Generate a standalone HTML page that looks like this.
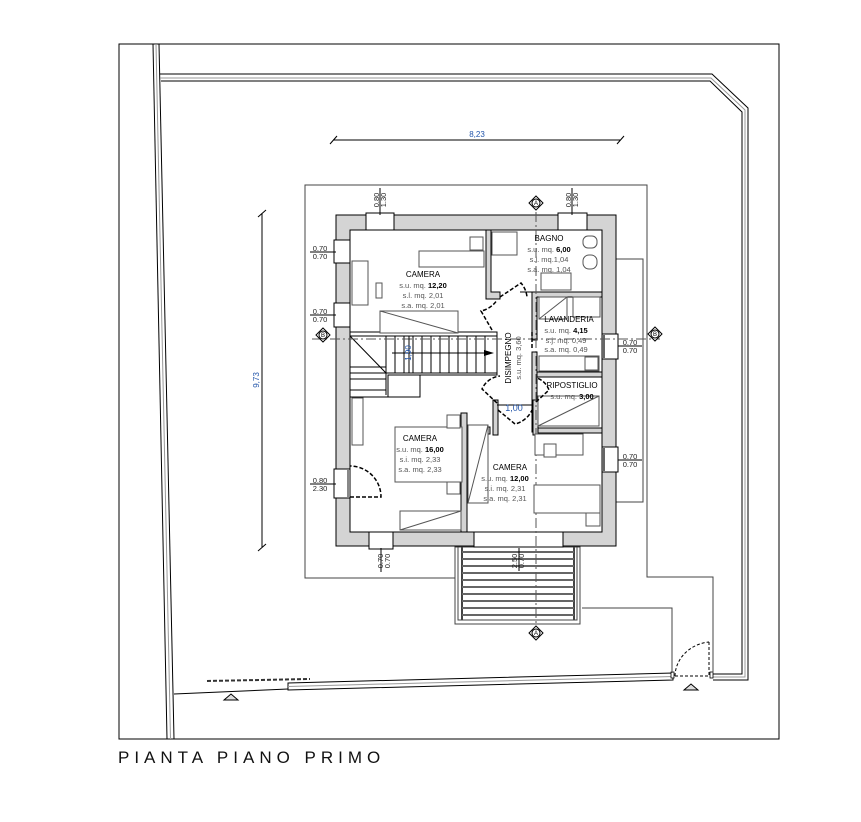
<!DOCTYPE html>
<html><head><meta charset="utf-8"><style>
html,body{margin:0;padding:0;background:#fff;}
svg{display:block;}
text{font-family:"Liberation Sans",sans-serif;}
</style></head><body>
<svg width="861" height="822" viewBox="0 0 861 822" xmlns="http://www.w3.org/2000/svg">
<rect width="861" height="822" fill="#fff"/>
<rect x="119" y="44" width="660" height="695" fill="none" stroke="#000" stroke-width="1"/>
<line x1="153" y1="44" x2="167" y2="739" stroke="#000" stroke-width="1"/>
<line x1="159" y1="44" x2="174" y2="739" stroke="#000" stroke-width="1"/>
<line x1="156" y1="44" x2="170.5" y2="739" stroke="#999" stroke-width="1"/>
<polyline points="160,74 712,74 748,108 748,680 713,680" fill="none" stroke="#000" stroke-width="1"/>
<polyline points="160,78 711,78 745,110 745,677 713,677" fill="none" stroke="#999" stroke-width="1"/>
<polyline points="161,81 710,81 742,112 742,674 713,674" fill="none" stroke="#000" stroke-width="1"/>
<line x1="174" y1="694" x2="288" y2="689" stroke="#000" stroke-width="1"/>
<polygon points="288,683 673,673 673,680 288,690" fill="#fff" stroke="#000" stroke-width="1"/>
<line x1="288" y1="686.5" x2="673" y2="676.5" stroke="#999" stroke-width="1"/>
<line x1="207" y1="681" x2="310" y2="679" stroke="#333" stroke-width="2" stroke-dasharray="4,2"/>
<polygon points="224,700 231,694 238,700" fill="#ddd" stroke="#000" stroke-width="1"/>
<polygon points="684,690 691,684 698,690" fill="#ddd" stroke="#000" stroke-width="1"/>
<rect x="671" y="672" width="3" height="6" fill="#fff" stroke="#000" stroke-width="0.8"/>
<rect x="710" y="672" width="3" height="6" fill="#fff" stroke="#000" stroke-width="0.8"/>
<path d="M675,676 A38,35 0 0 1 709,642" fill="none" stroke="#000" stroke-dasharray="3,2"/>
<line x1="709" y1="642" x2="709" y2="676" stroke="#000" stroke-dasharray="3,2"/>
<line x1="675" y1="676" x2="709" y2="676" stroke="#000" stroke-dasharray="3,2"/>
<polyline points="456,578 305,578 305,185 647,185 647,577 713,577 713,673" fill="none" stroke="#444" stroke-width="1"/>
<polyline points="582,608 672,608 672,673" fill="none" stroke="#444" stroke-width="1"/>
<polyline points="616,259 643,259 643,502 616,502" fill="none" stroke="#444" stroke-width="1"/>
<rect x="455" y="547" width="125" height="77" fill="#fff" stroke="#444"/>
<rect x="458" y="547" width="119" height="73" fill="none" stroke="#444"/>
<line x1="462" y1="547" x2="462" y2="620" stroke="#444" stroke-width="2"/>
<line x1="574" y1="547" x2="574" y2="620" stroke="#444" stroke-width="2"/>
<g stroke="#666" stroke-width="2">
<line x1="462" y1="552" x2="574" y2="552"/><line x1="462" y1="559" x2="574" y2="559"/>
<line x1="462" y1="566" x2="574" y2="566"/><line x1="462" y1="573" x2="574" y2="573"/>
<line x1="462" y1="580" x2="574" y2="580"/><line x1="462" y1="587" x2="574" y2="587"/>
<line x1="462" y1="594" x2="574" y2="594"/><line x1="462" y1="601" x2="574" y2="601"/>
<line x1="462" y1="608" x2="574" y2="608"/><line x1="462" y1="615" x2="574" y2="615"/>
</g>
<path d="M336,215 H616 V546 H336 Z M350,230 V532 H602 V230 Z" fill="#d4d4d4" fill-rule="evenodd" stroke="#000" stroke-width="1"/>
<rect x="366" y="213" width="28" height="17" fill="#fff" stroke="#000"/>
<rect x="558" y="213" width="29" height="17" fill="#fff" stroke="#000"/>
<rect x="334" y="240" width="16" height="23" fill="#fff" stroke="#000"/>
<rect x="334" y="303" width="16" height="24" fill="#fff" stroke="#000"/>
<rect x="334" y="469" width="16" height="29" fill="#fff" stroke="#000"/>
<rect x="347" y="470" width="3" height="27" fill="#888"/>
<rect x="602" y="334" width="16" height="25" fill="#fff" stroke="#000"/>
<rect x="602" y="447" width="16" height="25" fill="#fff" stroke="#000"/>
<rect x="602" y="335" width="3" height="23" fill="#666"/>
<rect x="602" y="448" width="3" height="23" fill="#666"/>
<rect x="369" y="532" width="24" height="17" fill="#fff" stroke="#000"/>
<rect x="474" y="532" width="89" height="15" fill="#fff" stroke="#000"/>
<g fill="#d4d4d4" stroke="#000" stroke-width="1">
<path d="M486,230 H491 V292 H500 V299 H486 Z"/>
<path d="M520,292 H602 V297 H537 V340 H532 V292 Z"/>
<rect x="532" y="352" width="5" height="80"/>
<rect x="537" y="372" width="65" height="5"/>
<rect x="537" y="428" width="65" height="5"/>
<path d="M467,427 H490 V434 H467 Z"/>
<path d="M461,413 H467 V532 H461 Z"/>
<rect x="493" y="400" width="5" height="35"/>
<rect x="533" y="400" width="5" height="35"/>
<path d="M350,332 H497 V375 H420 V397 H350 Z" fill="#fff"/>
</g>
<g stroke="#000" stroke-width="1" fill="none">
<rect x="350" y="336" width="147" height="37" fill="#fff"/>
<line x1="350" y1="336" x2="386" y2="373"/>
<line x1="386" y1="336" x2="386" y2="395"/>
<line x1="350" y1="367" x2="386" y2="367"/>
<line x1="350" y1="379" x2="386" y2="379"/>
<line x1="350" y1="390" x2="386" y2="390"/>
<rect x="388" y="375" width="32" height="22" fill="#fff"/>
<line x1="395" y1="336" x2="395" y2="373"/><line x1="404" y1="336" x2="404" y2="373"/>
<line x1="413" y1="336" x2="413" y2="373"/><line x1="422" y1="336" x2="422" y2="373"/>
<line x1="431" y1="336" x2="431" y2="373"/><line x1="440" y1="336" x2="440" y2="373"/>
<line x1="449" y1="336" x2="449" y2="373"/><line x1="458" y1="336" x2="458" y2="373"/>
<line x1="467" y1="336" x2="467" y2="373"/><line x1="476" y1="336" x2="476" y2="373"/>
<line x1="485" y1="336" x2="485" y2="373"/>
<line x1="392" y1="353" x2="492" y2="353"/>
</g>
<polygon points="484,350 494,353 484,356" fill="#000"/>
<line x1="312" y1="339" x2="660" y2="339" stroke="#555" stroke-dasharray="10,3,2,3"/>
<line x1="536" y1="212" x2="536" y2="626" stroke="#555" stroke-dasharray="10,3,2,3"/>
<g fill="#fff" stroke="#555" stroke-width="1">
<rect x="419" y="251" width="65" height="16"/><rect x="470" y="237" width="13" height="13"/>
<rect x="352" y="261" width="16" height="44"/><rect x="376" y="283" width="6" height="15"/>
<rect x="380" y="311" width="78" height="22"/><line x1="380" y1="311" x2="458" y2="333"/>
<rect x="492" y="232" width="25" height="23"/>
<rect x="541" y="273" width="30" height="17"/>
<rect x="583" y="236" width="14" height="12" rx="5"/><rect x="583" y="255" width="14" height="14" rx="6"/>
<rect x="539" y="297" width="28" height="22"/><line x1="539" y1="319" x2="567" y2="297"/>
<rect x="573" y="297" width="27" height="20"/>
<rect x="539" y="356" width="60" height="15"/>
<rect x="585" y="357" width="13" height="13"/>
<rect x="538" y="396" width="61" height="30"/><line x1="538" y1="426" x2="599" y2="396"/>
<rect x="352" y="398" width="11" height="47"/>
<rect x="395" y="427" width="67" height="55"/>
<rect x="447" y="415" width="13" height="13"/><rect x="447" y="482" width="13" height="12"/>
<rect x="400" y="511" width="61" height="19"/><line x1="400" y1="530" x2="461" y2="511"/>
<rect x="468" y="425" width="20" height="78"/><line x1="468" y1="503" x2="488" y2="425"/>
<rect x="534" y="485" width="66" height="28"/><rect x="586" y="513" width="14" height="13"/>
<rect x="535" y="434" width="48" height="21"/><rect x="544" y="444" width="12" height="13"/>
</g>
<g fill="none" stroke="#000" stroke-width="1.5" stroke-dasharray="4,2">
<path d="M500,297 L521,283 A25,25 0 0 1 527,297"/>
<path d="M492,330 L481,311 A25,25 0 0 0 497,300"/>
<path d="M497,403 L482,389 A22,22 0 0 1 500,376"/>
<path d="M498,410 L515,424 A25,25 0 0 0 532,410"/>
<path d="M536,402 L549,390 A20,20 0 0 0 537,378"/>
<path d="M532,348 L532,330"/>
<path d="M350,497 H381 A31,31 0 0 0 350,466"/>
</g>
<g stroke="#000" stroke-width="1">
<line x1="333" y1="140" x2="620" y2="140"/>
<line x1="330" y1="144" x2="337" y2="136"/><line x1="617" y1="144" x2="624" y2="136"/>
<line x1="262" y1="213" x2="262" y2="547"/>
<line x1="258" y1="217" x2="266" y2="210"/><line x1="258" y1="551" x2="266" y2="544"/>
<line x1="497" y1="405" x2="533" y2="405"/>
<line x1="409" y1="336" x2="409" y2="373"/>
<line x1="380" y1="188" x2="380" y2="215"/><line x1="572" y1="188" x2="572" y2="215"/>
<line x1="310" y1="252" x2="336" y2="252"/><line x1="310" y1="315" x2="336" y2="315"/>
<line x1="310" y1="484" x2="336" y2="484"/>
<line x1="618" y1="346" x2="642" y2="346"/><line x1="618" y1="460" x2="642" y2="460"/>
<line x1="381" y1="548" x2="381" y2="572"/><line x1="519" y1="548" x2="519" y2="571"/>
</g>
<g fill="#2255aa" font-size="8" text-anchor="middle">
<text x="477" y="137">8,23</text>
<text x="0" y="0" transform="translate(259,380) rotate(-90)">9,73</text>
<text x="514" y="411" font-size="9">1,00</text>
<text x="0" y="0" transform="translate(411,353) rotate(-90)">1,90</text>
</g>
<g fill="#222" font-size="7.5" text-anchor="middle">
<text x="0" y="0" transform="translate(379,200) rotate(-90)">0.80</text>
<text x="0" y="0" transform="translate(386,200) rotate(-90)">1.30</text>
<text x="0" y="0" transform="translate(571,200) rotate(-90)">0.80</text>
<text x="0" y="0" transform="translate(578,200) rotate(-90)">1.30</text>
<text x="320" y="251">0.70</text><text x="320" y="259">0.70</text>
<text x="320" y="314">0.70</text><text x="320" y="322">0.70</text>
<text x="320" y="483">0.80</text><text x="320" y="491">2.30</text>
<text x="630" y="345">0.70</text><text x="630" y="353">0.70</text>
<text x="630" y="459">0.70</text><text x="630" y="467">0.70</text>
<text x="0" y="0" transform="translate(383,561) rotate(-90)">0.70</text>
<text x="0" y="0" transform="translate(390,561) rotate(-90)">0.70</text>
<text x="0" y="0" transform="translate(517,561) rotate(-90)">2.50</text>
<text x="0" y="0" transform="translate(524,561) rotate(-90)">0.70</text>
</g>
<g stroke="#000" fill="#fff" stroke-width="1">
<polygon points="536,196 543,203 536,210 529,203"/><circle cx="536" cy="203" r="4"/>
<polygon points="536,626 543,633 536,640 529,633"/><circle cx="536" cy="633" r="4"/>
<polygon points="323,328 330,335 323,342 316,335"/><circle cx="323" cy="335" r="4"/>
<polygon points="655,327 662,334 655,341 648,334"/><circle cx="655" cy="334" r="4"/>
</g>
<g font-size="6" text-anchor="middle" fill="#000">
<text x="536" y="205">A</text><text x="536" y="635">A</text>
<text x="323" y="337">B</text><text x="655" y="336">B</text>
</g>
<g font-size="8" text-anchor="middle" fill="#000">
<text x="423" y="277">CAMERA</text>
<text x="549" y="241">BAGNO</text>
<text x="569" y="322">LAVANDERIA</text>
<text x="572" y="388">RIPOSTIGLIO</text>
<text x="420" y="441">CAMERA</text>
<text x="510" y="470">CAMERA</text>
<text x="0" y="0" transform="translate(511,358) rotate(-90)">DISIMPEGNO</text>
</g>
<g font-size="7.5" text-anchor="middle" fill="#555">
<text x="423" y="288">s.u. mq. <tspan fill="#000" font-weight="bold">12,20</tspan></text>
<text x="423" y="298">s.l. mq. 2,01</text><text x="423" y="308">s.a. mq. 2,01</text>
<text x="549" y="252">s.u. mq. <tspan fill="#000" font-weight="bold">6,00</tspan></text>
<text x="549" y="262">s.l. mq.1,04</text><text x="549" y="272">s.a. mq. 1,04</text>
<text x="566" y="333">s.u. mq. <tspan fill="#000" font-weight="bold">4,15</tspan></text>
<text x="566" y="343">s.j. mq. 0,49</text><text x="566" y="352">s.a. mq. 0,49</text>
<text x="572" y="399">s.u. mq. <tspan fill="#000" font-weight="bold">3,00</tspan></text>
<text x="420" y="452">s.u. mq. <tspan fill="#000" font-weight="bold">16,00</tspan></text>
<text x="420" y="462">s.i. mq. 2,33</text><text x="420" y="472">s.a. mq. 2,33</text>
<text x="505" y="481">s.u. mq. <tspan fill="#000" font-weight="bold">12,00</tspan></text>
<text x="505" y="491">s.i. mq. 2,31</text><text x="505" y="501">s.a. mq. 2,31</text>
<text x="0" y="0" transform="translate(521,358) rotate(-90)">s.u. mq. 3,60</text>
</g>
<text x="118" y="763" font-size="17" letter-spacing="5" fill="#111">PIANTA PIANO PRIMO</text>
</svg>
</body></html>
